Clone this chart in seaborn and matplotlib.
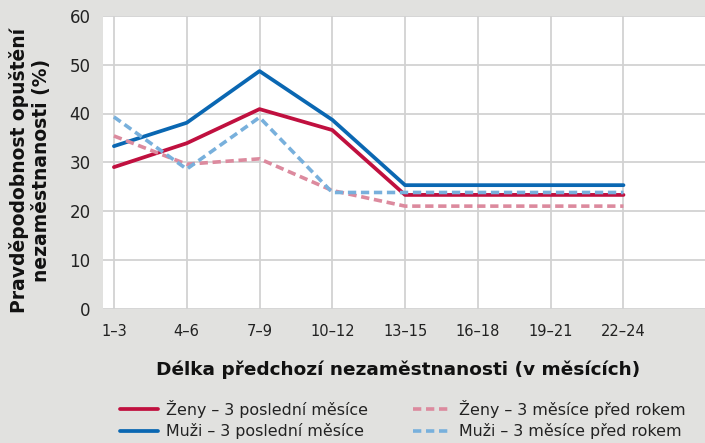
import matplotlib
matplotlib.use("Agg")
import matplotlib.pyplot as plt
import seaborn as sns
import pandas as pd

categories = ["1–3", "4–6", "7–9", "10–12", "13–15", "16–18", "19–21", "22–24"]
zeny_posledni = [29.0, 33.9, 40.9, 36.6, 23.3, 23.3, 23.3, 23.3]
muzi_posledni = [33.3, 38.1, 48.7, 38.7, 25.3, 25.3, 25.3, 25.3]
zeny_rok = [35.4, 29.6, 30.7, 24.2, 21.0, 21.0, 21.0, 21.0]
muzi_rok = [39.3, 28.6, 39.2, 23.8, 23.8, 23.8, 23.8, 23.8]
series_names = ["Ženy – 3 poslední měsíce", "Muži – 3 poslední měsíce",
                "Ženy – 3 měsíce před rokem", "Muži – 3 měsíce před rokem"]
y_ticks = [0, 10, 20, 30, 40, 50, 60]

sns.set_theme(style="white")
plt.rcParams['font.family'] = ['DejaVu Sans']

bg = "#e1e1df"
fig = plt.figure(figsize=(7.05, 4.43), dpi=100, facecolor=bg)
ax = fig.add_axes([103/705, 1-308.5/443, 1-103/705, (308.5-16)/443])
ax.set_facecolor("white")

styles = [
    (zeny_posledni, "#c0103f", "-", 2.7),
    (muzi_posledni, "#0a67b2", "-", 2.7),
    (zeny_rok, "#dc8a9e", (0, (2.3, 1.3)), 2.6),
    (muzi_rok, "#78b0dc", (0, (2.3, 1.3)), 2.6),
]
xs = list(range(len(categories)))
handles = []
for (vals, col, ls, lw), name in zip(styles, series_names):
    df = pd.DataFrame({"x": xs, "y": vals})
    sns.lineplot(data=df, x="x", y="y", ax=ax, color=col, linewidth=lw,
                 linestyle=ls, label=name, legend=False)
    handles.append(ax.lines[-1])

ax.set_xlim(-0.15, 8.12)
ax.set_ylim(0, 60)
ax.set_xticks(xs)
ax.set_xticklabels(categories)
ax.set_yticks(y_ticks)
ax.grid(True, color="#d2d2d2", linewidth=1.3)
ax.set_axisbelow(True)
for s in ax.spines.values():
    s.set_visible(False)
ax.tick_params(axis="x", length=0, labelsize=10.5, colors="#222222", pad=11)
ax.tick_params(axis="y", length=0, labelsize=12, colors="#222222", pad=9)
ax.set_xlabel("")
ax.set_ylabel("")

fig.text(398/705, 1-370/443, "Délka předchozí nezaměstnanosti (v měsících)",
         fontsize=13.3, fontweight="bold", color="#111111", ha="center", va="center")
fig.text(30/705, 1-170/443, "Pravděpodobnost opuštění\nnezaměstnanosti (%)",
         fontsize=13.5, fontweight="bold", color="#111111", ha="center", va="center",
         rotation=90, linespacing=1.2, multialignment="center")

fs = 11.4
common = dict(frameon=False, fontsize=fs, handlelength=2.4, handletextpad=0.5,
              labelspacing=0.32, borderpad=0, borderaxespad=0, loc="upper left")
leg1 = fig.legend(handles[:2], series_names[:2], bbox_to_anchor=(120/705, 1-400/443), **common)
leg2 = fig.legend(handles[2:], series_names[2:], bbox_to_anchor=(413/705, 1-400/443), **common)
for leg in (leg1, leg2):
    for t in leg.get_texts():
        t.set_color("#222222")

fig.savefig("out.png", dpi=100, facecolor=bg)
